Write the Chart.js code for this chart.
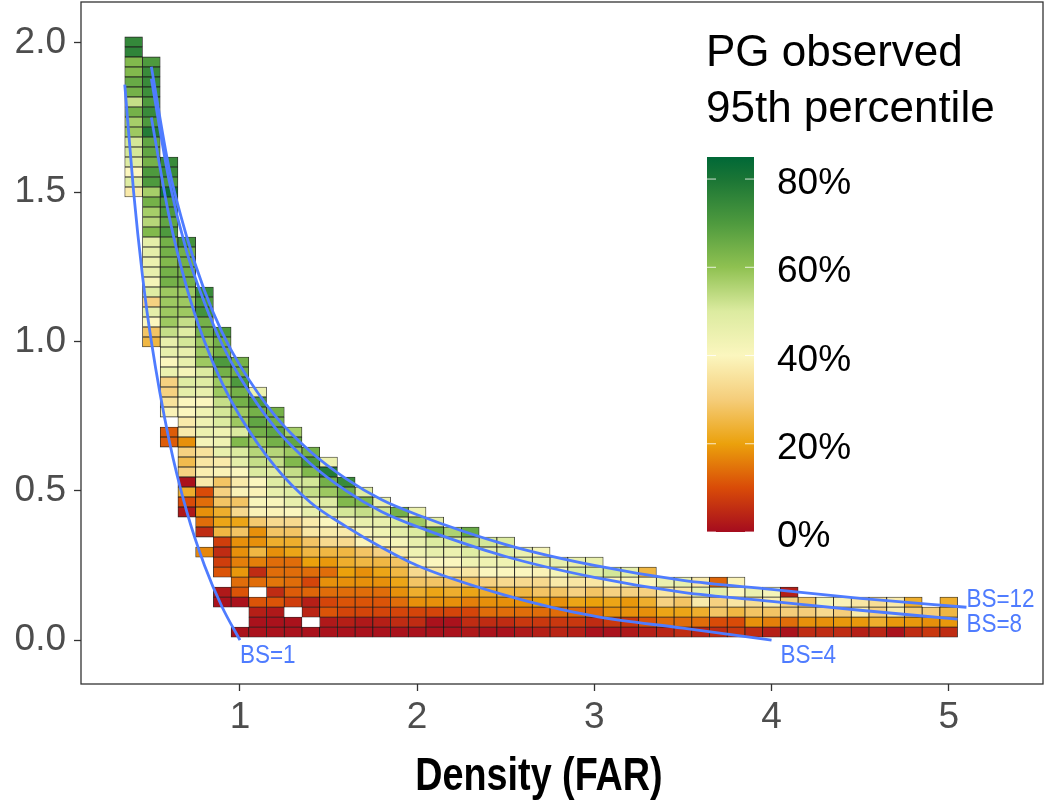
<!DOCTYPE html>
<html>
<head>
<meta charset="utf-8">
<script src="https://cdn.jsdelivr.net/npm/chart.js@4.4.1/dist/chart.umd.min.js"></script>
<style>
  html, body { margin: 0; padding: 0; background: #ffffff; }
  #wrap { width: 1045px; height: 805px; }
</style>
</head>
<body>
<div id="wrap"><canvas id="pg" width="1045" height="805"></canvas></div>
<script>
// density (FAR) bin centres, one per column of cells
const farCenters = [0.4, 0.5, 0.6, 0.7, 0.8, 0.9, 1.0, 1.1, 1.2, 1.3, 1.4, 1.5, 1.6, 1.7, 1.8, 1.9,
  2.0, 2.1, 2.2, 2.3, 2.4, 2.5, 2.6, 2.7, 2.8, 2.9, 3.0, 3.1, 3.2, 3.3, 3.4, 3.5, 3.6, 3.7, 3.8, 3.9,
  4.0, 4.1, 4.2, 4.3, 4.4, 4.5, 4.6, 4.7, 4.8, 4.9, 5.0];

// vertical bins (y axis) : lower edge of first bin and bin height
const pgBottom = 0.01;
const pgStep = 0.0335;

// index of the lowest bin that is filled in each column
const colFirstRow = [44, 29, 19, 12, 8, 3, 0, 0, 0, 0, 0, 0, 0, 0, 0, 0,
  0, 0, 0, 0, 0, 0, 0, 0, 0, 0, 0, 0, 0, 0, 0, 0, 0, 0, 0, 0,
  0, 0, 0, 0, 0, 0, 0, 0, 0, 0, 0];

// PG observed 95th percentile (%), bottom -> top, null = empty cell
const pgValues = [
  [37, 49, 40, 49, 51, 51, 58, 57, 64, 53, 64, 66, 62, 62, 76, 75],
  [25, 28, 40, 47, 31, 49, 42, 46, 45, 47, 47, 62, 55, 57, 64, 57, 70, 70, 64, 67, 67, 78, 70, 74, 70, 73, 74, 74, 70],
  [12, 12, null, 39, 35, 31, 31, 45, 40, 46, 46, 53, 58, 58, 58, 58, 64, 64, 62, 64, 64, 70, 67, 70, 70, 82, 70, 74, 74],
  [2, 10, 23, 1, 31, 26, 31, 18, 37, 37, 40, 40, 47, 49, 42, 46, 46, 51, 49, 53, 58, 58, 58, 64, 64, 64, 64, 72],
  [17, null, 5, 14, 18, 14, 10, 37, 38, 36, 35, 42, 45, 44, 44, 40, 46, 49, 50, 58, 58, 58, 64, 64, 72, 70, 74],
  [1, 2, null, 11, 8, 5, 8, 25, 21, 23, 28, 31, 28, 39, 37, 46, 44, 44, 50, 51, 53, 58, 58, 64, 70, 64, 64, 70],
  [1, null, null, 1, 11, 14, 19, 16, 18, 18, 28, 21, 33, 28, 39, 37, 40, 47, 50, 62, 50, 58, 58, 64, 64, 70, 64, 64],
  [1, 1, 3, 11, null, 14, 5, 16, 25, 18, 18, 29, 39, 41, 39, 40, 50, 53, 55, 58, 64, 67, 64, 70, 45],
  [1, 1, 2, 11, 5, 15, 14, 14, 18, 23, 28, 33, 39, 41, 46, 49, 49, 53, 55, 64, 67, 64, 64],
  [1, 1, null, 8, 12, 14, 14, 14, 21, 23, 28, 33, 40, 46, 49, 51, 53, 62, 58, 67, 57],
  [1, null, 4, 3, 13, 9, 14, 20, 25, 28, 36, 37, 46, 47, 53, 51, 62, 70, 64],
  [1, 2, 11, 9, 14, 18, 14, 19, 25, 33, 37, 40, 46, 49, 58, 64, 78, 45],
  [1, 3, 9, 11, 14, 18, 20, 23, 25, 33, 37, 42, 51, 62, 64, 74],
  [1, 2, 9, 11, 14, 18, 18, 25, 28, 39, 41, 46, 53, 62, 49],
  [1, 3, 9, 11, 14, 18, 21, 25, 31, 39, 44, 46, 51, 46],
  [1, 5, 9, 14, 18, 21, 25, 28, 37, 42, 47, 50, 64],
  [1, 5, 9, 18, 23, 28, 33, 39, 44, 46, 50, 58, 45],
  [1, 1, 9, 18, 21, 28, 36, 40, 46, 50, 64, 48],
  [1, 1, 9, 18, 23, 28, 36, 40, 45, 50, 56],
  [2, 5, 9, 16, 21, 28, 36, 44, 49, 53, 66],
  [1, 5, 14, 18, 23, 31, 40, 44, 46, 51],
  [1, 5, 14, 18, 25, 33, 40, 44, 49, 50],
  [2, 7, 14, 18, 25, 33, 40, 47, 45],
  [3, 7, 14, 20, 28, 33, 39, 46, 42],
  [4, 7, 14, 18, 28, 37, 42, 46],
  [3, 7, 14, 21, 31, 36, 50, 46],
  [1, 5, 14, 20, 28, 36, 49, 46],
  [1, 7, 18, 21, 31, 39, 51],
  [2, 7, 18, 19, 31, 39, 47],
  [3, 11, 18, 23, 31, 40, 25],
  [4, 14, 21, 31, 36, 45],
  [5, 14, 21, 28, 36, 46],
  [4, 14, 23, 37, 46, 37],
  [5, 10, 28, 31, 47, 13],
  [7, 10, 25, 36, 40, 39],
  [5, 18, 28, 34, 45],
  [3, 16, 28, 38, 42],
  [1, 14, 30, 31, 3],
  [5, 18, 30, 28],
  [5, 18, 33, 42],
  [5, 19, 30, 39],
  [3, 19, 37, 36],
  [4, 23, 31, 34],
  [1, 19, 37, 37],
  [5, 19, 30, 23],
  [7, 18, 30],
  [5, 19, 25, 23]
];

// building-share curves, points
const bs1X = [0.35, 0.4, 0.45, 0.5, 0.6, 0.7, 0.8, 0.9, 1.0];
const bs1Y = [1.86, 1.5, 1.22, 1.0, 0.67, 0.43, 0.25, 0.11, 0.0];
const bs4X = [0.5, 0.6, 0.7, 0.8, 0.9, 1.0, 1.2, 1.4, 1.6, 1.8, 2.0, 2.5, 3.0, 3.5, 4.0];
const bs4Y = [1.75, 1.42, 1.18, 1.0, 0.86, 0.75, 0.58, 0.46, 0.38, 0.31, 0.25, 0.15, 0.08, 0.04, 0.0];
const bs8X = [0.5, 0.6, 0.7, 0.8, 0.9, 1.0, 1.2, 1.4, 1.6, 1.8, 2.0, 2.5, 3.0, 3.5, 4.0, 4.5, 5.05];
const bs8Y = [1.88, 1.54, 1.30, 1.13, 0.99, 0.88, 0.71, 0.59, 0.50, 0.43, 0.38, 0.28, 0.21, 0.16, 0.13, 0.10, 0.07];
const bs12X = [0.5, 0.6, 0.7, 0.8, 0.9, 1.0, 1.2, 1.4, 1.6, 1.8, 2.0, 2.5, 3.0, 3.5, 4.0, 4.5, 5.1];
const bs12Y = [1.92, 1.58, 1.35, 1.17, 1.03, 0.92, 0.75, 0.63, 0.54, 0.47, 0.42, 0.32, 0.25, 0.20, 0.17, 0.14, 0.11];

const bsLabels = ['BS=1', 'BS=4', 'BS=8', 'BS=12'];
const bsLabelX = [1.0, 4.05, 5.1, 5.1];
const bsLabelY = [-0.055, -0.055, 0.05, 0.134];

const yTicks = [0, 0.5, 1.0, 1.5, 2.0];
const legendTicks = [0, 20, 40, 60, 80];
const legendMax = 85;

// colour scale (RdYlGn like)
const stopVals = [0, 10, 20, 30, 40, 50, 60, 70, 80, 85];
const stopCols = ['#a50c1e', '#d94b08', '#eba10c', '#f5cd7a', '#fbf6be', '#dceba0', '#8fc151', '#4e9a3e', '#1a7535', '#006837'];

const lineBlue = '#4f7cff';
const sansFamily = "'Liberation Sans', Arial, Helvetica, sans-serif";

function hexRgb(h) {
  return [parseInt(h.substr(1, 2), 16), parseInt(h.substr(3, 2), 16), parseInt(h.substr(5, 2), 16)];
}

function pgColour(v) {
  if (v <= stopVals[0]) return stopCols[0];
  for (let i = 1; i < stopVals.length; i++) {
    if (v <= stopVals[i]) {
      const t = (v - stopVals[i - 1]) / (stopVals[i] - stopVals[i - 1]);
      const a = hexRgb(stopCols[i - 1]), b = hexRgb(stopCols[i]);
      const c = a.map((x, j) => Math.round(x + (b[j] - x) * t));
      return 'rgb(' + c.join(',') + ')';
    }
  }
  return stopCols[stopCols.length - 1];
}

// one floating-bar dataset per vertical bin
let nRows = 0;
pgValues.forEach(function(col, k) {
  nRows = Math.max(nRows, colFirstRow[k] + col.length);
});

const cellSets = [];
for (let r = 0; r < nRows; r++) {
  const pts = [];
  const cols = [];
  pgValues.forEach(function(col, k) {
    const v = col[r - colFirstRow[k]];
    if (v === undefined || v === null) return;
    pts.push({ x: farCenters[k], y: [pgBottom + r * pgStep, pgBottom + (r + 1) * pgStep] });
    cols.push(pgColour(v));
  });
  if (!pts.length) continue;
  cellSets.push({
    type: 'bar',
    data: pts,
    backgroundColor: cols,
    borderColor: 'rgba(0,0,0,0.85)',
    borderWidth: 0.8,
    borderSkipped: false,
    grouped: false,
    barPercentage: 1,
    categoryPercentage: 1,
    order: 2
  });
}

function curve(xs, ys) {
  return {
    type: 'line',
    data: xs.map((x, i) => ({ x: x, y: ys[i] })),
    borderColor: lineBlue,
    borderWidth: 2.8,
    pointRadius: 0,
    fill: false,
    cubicInterpolationMode: 'monotone',
    order: 0
  };
}

const curveSets = [curve(bs1X, bs1Y), curve(bs4X, bs4Y), curve(bs8X, bs8Y), curve(bs12X, bs12Y)];

// panel border
const panelBorder = {
  id: 'panelBorder',
  afterDraw(chart) {
    const a = chart.chartArea, ctx = chart.ctx;
    ctx.save();
    ctx.strokeStyle = '#333333';
    ctx.lineWidth = 1.3;
    ctx.strokeRect(a.left, a.top, a.right - a.left, a.bottom - a.top);
    ctx.restore();
  }
};

// BS labels next to the curves
const bsText = {
  id: 'bsText',
  afterDatasetsDraw(chart) {
    const ctx = chart.ctx, sx = chart.scales.x, sy = chart.scales.y;
    ctx.save();
    ctx.fillStyle = lineBlue;
    ctx.font = '25px ' + sansFamily;
    ctx.textAlign = 'left';
    ctx.textBaseline = 'middle';
    bsLabels.forEach(function(t, i) {
      const px = sx.getPixelForValue(bsLabelX[i]);
      const py = sy.getPixelForValue(bsLabelY[i]);
      ctx.save();
      ctx.translate(px, py);
      ctx.scale(0.9, 1);
      ctx.fillText(t, 0, 0);
      ctx.restore();
    });
    ctx.restore();
  }
};

// colour bar legend + axis title
const colourBar = {
  id: 'colourBar',
  afterDraw(chart) {
    const ctx = chart.ctx;
    const bx = 707, by = 157, bw = 47, bh = 375;
    ctx.save();
    ctx.fillStyle = '#000000';
    ctx.font = '44px ' + sansFamily;
    ctx.textAlign = 'left';
    ctx.textBaseline = 'alphabetic';
    ctx.fillText('PG observed', 706, 66);
    ctx.fillText('95th percentile', 706, 122);

    const g = ctx.createLinearGradient(0, by + bh, 0, by);
    stopVals.forEach(function(v, i) { g.addColorStop(v / legendMax, stopCols[i]); });
    ctx.fillStyle = g;
    ctx.fillRect(bx, by, bw, bh);

    ctx.strokeStyle = 'rgba(255,255,255,0.8)';
    ctx.lineWidth = 1;
    ctx.font = '37px ' + sansFamily;
    ctx.textBaseline = 'middle';
    legendTicks.forEach(function(v) {
      const y = by + bh - v / legendMax * bh;
      ctx.beginPath();
      ctx.moveTo(bx, y); ctx.lineTo(bx + 9, y);
      ctx.moveTo(bx + bw - 9, y); ctx.lineTo(bx + bw, y);
      ctx.stroke();
      ctx.fillStyle = '#000000';
      ctx.fillText(v + '%', 777, y + 5);
    });

    // x axis title, condensed like the original
    ctx.font = 'bold 46px ' + sansFamily;
    ctx.textAlign = 'center';
    ctx.textBaseline = 'alphabetic';
    ctx.translate(539, 790);
    ctx.scale(0.82, 1);
    ctx.fillText('Density (FAR)', 0, 0);
    ctx.restore();
  }
};

new Chart(document.getElementById('pg'), {
  type: 'bar',
  data: { datasets: curveSets.concat(cellSets) },
  options: {
    responsive: false,
    animation: false,
    events: [],
    layout: { padding: { left: 0, right: 2, top: 2, bottom: 0 } },
    plugins: {
      legend: { display: false },
      tooltip: { enabled: false }
    },
    scales: {
      x: {
        type: 'linear',
        min: 0.103,
        max: 5.532,
        offset: false,
        ticks: {
          stepSize: 1,
          includeBounds: false,
          maxRotation: 0,
          color: '#4d4d4d',
          padding: 5,
          font: { family: sansFamily, size: 37 },
          callback: v => String(v)
        },
        grid: { offset: false, drawOnChartArea: false, drawTicks: true, tickLength: 7, tickColor: '#333333', tickWidth: 1.3 },
        border: { display: false },
        afterFit(s) { s.height = 121; s.paddingLeft = 0; s.paddingRight = 0; }
      },
      y: {
        type: 'linear',
        min: -0.147,
        max: 2.137,
        afterBuildTicks(s) { s.ticks = yTicks.map(v => ({ value: v })); },
        ticks: {
          color: '#4d4d4d',
          padding: 8,
          font: { family: sansFamily, size: 37 },
          callback: v => v.toFixed(1)
        },
        grid: { drawOnChartArea: false, drawTicks: true, tickLength: 7, tickColor: '#333333', tickWidth: 1.3 },
        border: { display: false },
        afterFit(s) { s.width = 81; s.paddingTop = 0; s.paddingBottom = 0; }
      }
    }
  },
  plugins: [panelBorder, bsText, colourBar]
});
</script>
</body>
</html>
